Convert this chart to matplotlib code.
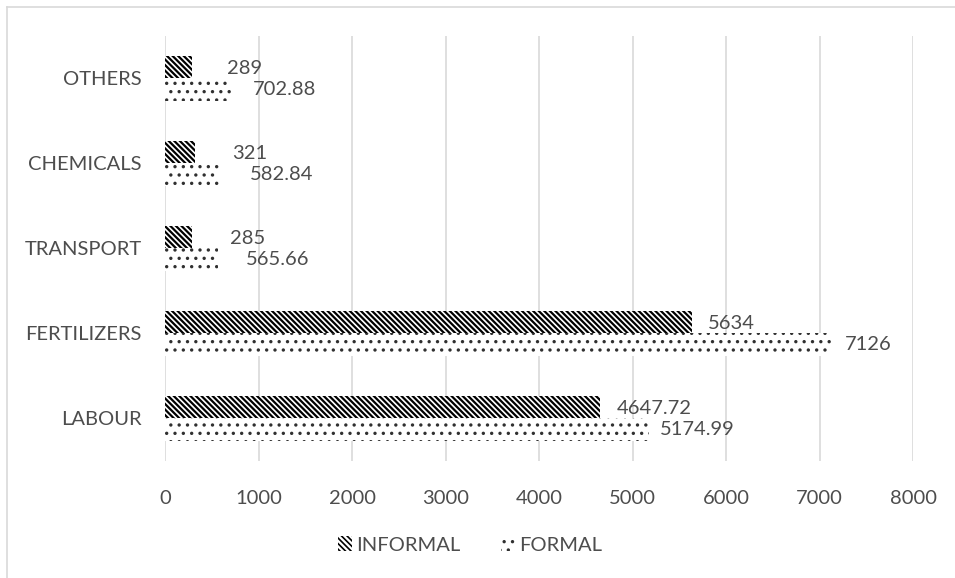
import matplotlib.pyplot as plt
import numpy as np
from matplotlib.lines import Line2D

categories = ["OTHERS", "CHEMICALS", "TRANSPORT", "FERTILIZERS", "LABOUR"]
informal = [289, 321, 285, 5634, 4647.72]
formal = [702.88, 582.84, 565.66, 7126, 5174.99]
informal_labels = ["289", "321", "285", "5634", "4647.72"]
formal_labels = ["702.88", "582.84", "565.66", "7126", "5174.99"]
x_ticks = [0, 1000, 2000, 3000, 4000, 5000, 6000, 7000, 8000]

# label gaps in pixels (style only), as placed in the source chart
gap_informal = [35, 37, 38, 16, 17]
gap_formal = [22, 30, 28, 14, 11]

plt.rcParams['font.family'] = ['Lato', 'DejaVu Sans']
text_col = '#4d4d4d'
fs = 14.5

fig = plt.figure(figsize=(9.55, 5.78), dpi=100)
ax = fig.add_axes([165 / 955, 1 - 460.5 / 578, (913 - 165) / 955, (460.5 - 36) / 578])

y = np.arange(len(categories))
h = 0.265

plt.rcParams['hatch.linewidth'] = 1.6
b1 = ax.barh(y - h / 2, informal, height=h, color='white', edgecolor='black',
             hatch='\\' * 6, linewidth=0, label='INFORMAL', zorder=3)
plt.rcParams['hatch.linewidth'] = 1.2
b2 = ax.barh(y + h / 2, formal, height=h, color='white', edgecolor='#303030',
             hatch='..', linewidth=0, label='FORMAL', zorder=3)

px = 0.72
for i in range(len(categories)):
    ax.annotate(informal_labels[i], (informal[i], y[i] - h / 2),
                xytext=(gap_informal[i] * px, -1), textcoords='offset points',
                ha='left', va='center', fontsize=fs, color=text_col)
    ax.annotate(formal_labels[i], (formal[i], y[i] + h / 2),
                xytext=(gap_formal[i] * px, 0), textcoords='offset points',
                ha='left', va='center', fontsize=fs, color=text_col)

ax.set_ylim(len(categories) - 0.5, -0.5)
ax.set_xlim(0, 8000)
ax.set_yticks(y)
ax.set_yticklabels(categories)
ax.set_xticks(x_ticks)
ax.tick_params(axis='both', length=0, labelsize=fs, colors=text_col)
ax.tick_params(axis='x', pad=21)
ax.tick_params(axis='y', pad=17)
for s in ax.spines.values():
    s.set_visible(False)
ax.grid(axis='x', color='#d9d9d9', linewidth=1.2, zorder=0)
ax.set_axisbelow(True)

leg = fig.legend(handles=[b1, b2], loc='center', bbox_to_anchor=(470 / 955, 1 - 545 / 578),
                 ncol=2, frameon=False, fontsize=fs, handlelength=0.7, handleheight=0.7,
                 handletextpad=0.2, columnspacing=2.0, labelcolor=text_col)

# outer chart border
fig.add_artist(Line2D([7 / 955, 1], [1 - 7 / 578, 1 - 7 / 578], color='#d9d9d9', lw=1.2))
fig.add_artist(Line2D([7 / 955, 7 / 955], [0, 1 - 7 / 578], color='#d9d9d9', lw=1.2))

fig.savefig('out.png', dpi=100)
